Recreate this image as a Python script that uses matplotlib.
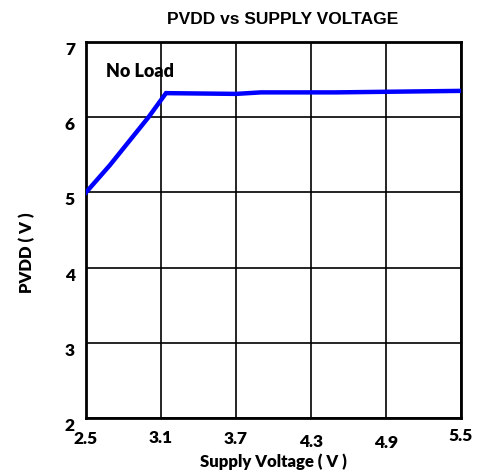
import matplotlib
matplotlib.use("Agg")
import matplotlib.pyplot as plt

supply_v = [2.5, 2.69, 3.0, 3.14, 3.7, 3.9, 4.5, 5.5]
pvdd_v = [5.0, 5.36, 6.0, 6.32, 6.31, 6.33, 6.33, 6.35]

xticks = [2.5, 3.1, 3.7, 4.3, 4.9, 5.5]
yticks = [2, 3, 4, 5, 6, 7]

fnt = dict(fontfamily="Lato", fontweight="heavy")

fig = plt.figure(figsize=(4.81, 4.74), dpi=100)
ax = fig.add_axes([86/481, 1-418/474, 375/481, 376/474])

ax.plot(supply_v, pvdd_v, color="#0000ff", lw=3.2, solid_joinstyle="miter", zorder=3)

ax.set_xlim(2.5, 5.5)
ax.set_ylim(2, 7)
ax.set_xticks(xticks)
ax.set_yticks(yticks)
ax.grid(True, color="black", lw=1.2)
for s in ax.spines.values():
    s.set_linewidth(2)
ax.tick_params(axis="x", length=0, pad=9)
ax.tick_params(axis="y", length=0, pad=8)
ax.set_xticklabels([str(v) for v in xticks], fontsize=12.5, **fnt)
ax.set_yticklabels([str(v) for v in yticks], fontsize=12.5, va="top", **fnt)
# labels in the original sit a bit unevenly
for lab, dy in zip(ax.get_xticklabels(), [0, 0.002, 0, -0.008, -0.012, 0.006]):
    lab.set_y(dy)
for lab in ax.get_yticklabels():
    lab.set_y(lab.get_position()[1] + 0.06)

ax.text(2.66, 6.53, "No Load", fontsize=13, **fnt)
ax.set_xlabel("Supply Voltage ( V )", fontsize=12, labelpad=2, **fnt)
ax.set_ylabel("PVDD ( V )", fontsize=12, **fnt)
ax.yaxis.set_label_coords(-0.135, 0.44)
fig.text(283/481, 1 - 19/474, "PVDD vs SUPPLY VOLTAGE", ha="center", va="center",
         fontfamily="Liberation Sans", fontweight="bold", fontsize=12.5)

fig.savefig("out.png", dpi=100)
